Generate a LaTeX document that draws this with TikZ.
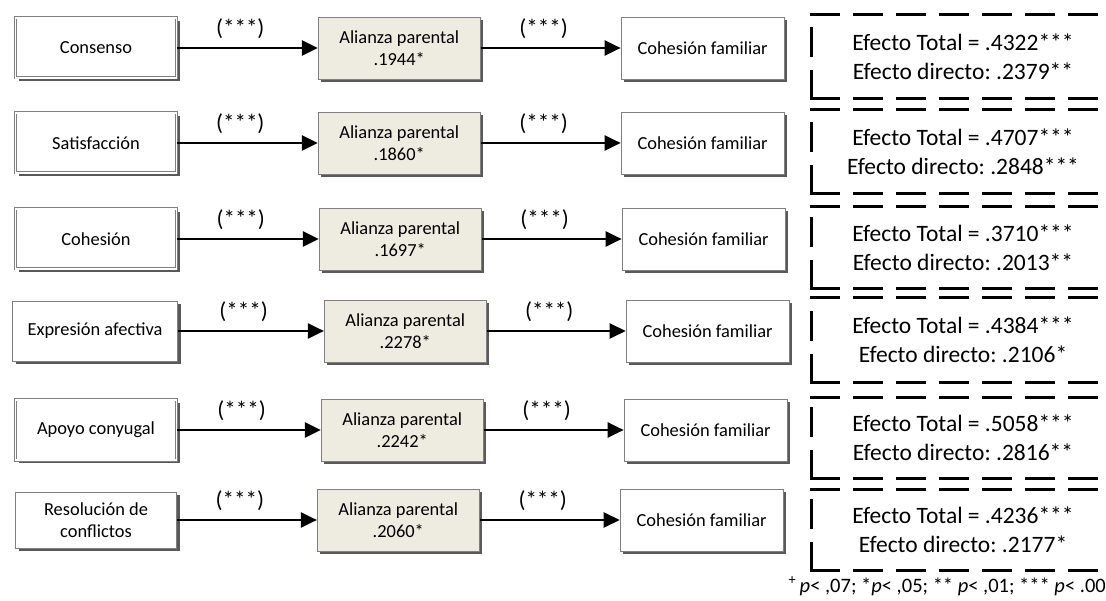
\documentclass[tikz,border=0pt]{standalone}
\usepackage{fontspec}
\setmainfont{Carlito}
\usetikzlibrary{
    positioning,
    shadows,
    arrows.meta
}
\definecolor{GrisBorde}{HTML}{7F7F7F}
\definecolor{GrisSombra}{HTML}{595959}
\definecolor{BeigeMedio}{HTML}{EEECE1}
\frenchspacing

\tikzset{
    caja/.style={
        draw=GrisBorde,
        line width=0.8pt,
        fill=white,
        minimum width=162pt,
        minimum height=61pt,
        inner sep=2pt,
        align=center,
        font=\fontsize{18.4}{22}\selectfont,
        drop shadow={shadow xshift=3pt, shadow yshift=-3pt,
                     fill=GrisSombra, opacity=1}
    },
    fuente/.style={caja, minimum width=161pt, minimum height=60pt},
    doble/.style={double=white, double distance=1.6pt, line width=0.7pt},
    mediador/.style={caja, fill=BeigeMedio, minimum height=62pt},
    resultado/.style={caja, minimum width=163pt, minimum height=62pt},
    flecha/.style={
        line width=2.4pt,
        -{Triangle[length=16pt, width=15pt]}
    },
    etiqueta/.style={
        above=8pt,
        pos=0.45,
        inner sep=0pt,
        font=\fontsize{23}{26}\selectfont
    },
    efecto/.style={
        minimum width=302pt,
        minimum height=83pt,
        inner sep=0pt,
        align=center,
        font=\fontsize{23.5}{29}\selectfont
    },
    borde/.style={
        line width=3pt,
        line cap=rect,
        dash pattern=on 27pt off 16pt
    }
}

\begin{document}
\begin{tikzpicture}[x=1pt, y=-1pt]

    \useasboundingbox (0,0) rectangle (1106,601);

    % fila 1
    \node[fuente, doble] (consenso) at (96,48) {Consenso};
    \node[mediador, right=141pt of consenso] (alianzaA) {Alianza parental\\.1944*};
    \node[resultado, right=140pt of alianzaA] (cohesionA) {Cohesión familiar};
    \draw[flecha] (consenso) -- node[etiqueta]{(***)} (alianzaA);
    \draw[flecha] (alianzaA) -- node[etiqueta]{(***)} (cohesionA);
    \node[efecto, minimum height=83pt] (efectoA) at (963,56.5)
        {Efecto Total = .4322***\\Efecto directo: .2379**};

    % fila 2
    \node[fuente, doble] (satisfaccion) at (96,143) {Satisfacción};
    \node[mediador, right=141pt of satisfaccion] (alianzaB) {Alianza parental\\.1860*};
    \node[resultado, right=140pt of alianzaB] (cohesionB) {Cohesión familiar};
    \draw[flecha] (satisfaccion) -- node[etiqueta]{(***)} (alianzaB);
    \draw[flecha] (alianzaB) -- node[etiqueta]{(***)} (cohesionB);
    \node[efecto, minimum height=83pt] (efectoB) at (963,151.5)
        {Efecto Total = .4707***\\Efecto directo: .2848***};

    % fila 3
    \node[fuente, doble] (cohesion) at (96,239) {Cohesión};
    \node[mediador, right=142pt of cohesion] (alianzaC) {Alianza parental\\.1697*};
    \node[resultado, right=140pt of alianzaC] (cohesionC) {Cohesión familiar};
    \draw[flecha] (cohesion) -- node[etiqueta]{(***)} (alianzaC);
    \draw[flecha] (alianzaC) -- node[etiqueta]{(***)} (cohesionC);
    \node[efecto, minimum height=81pt] (efectoC) at (963,247.5)
        {Efecto Total = .3710***\\Efecto directo: .2013**};

    % fila 4
    \node[fuente, minimum width=165pt] (expresion) at (95,331) {Expresión afectiva};
    \node[mediador, right=146pt of expresion] (alianzaD) {Alianza parental\\.2278*};
    \node[resultado, right=139pt of alianzaD] (cohesionD) {Cohesión familiar};
    \draw[flecha] (expresion) -- node[etiqueta]{(***)} (alianzaD);
    \draw[flecha] (alianzaD) -- node[etiqueta]{(***)} (cohesionD);
    \node[efecto, minimum height=84pt] (efectoD) at (963,340)
        {Efecto Total = .4384***\\Efecto directo: .2106*};

    % fila 5
    \node[fuente, doble] (apoyo) at (96,430) {Apoyo conyugal};
    \node[mediador, right=144pt of apoyo] (alianzaE) {Alianza parental\\.2242*};
    \node[resultado, right=140pt of alianzaE] (cohesionE) {Cohesión familiar};
    \draw[flecha] (apoyo) -- node[etiqueta]{(***)} (alianzaE);
    \draw[flecha] (alianzaE) -- node[etiqueta]{(***)} (cohesionE);
    \node[efecto, minimum height=80pt] (efectoE) at (963,438)
        {Efecto Total = .5058***\\Efecto directo: .2816**};

    % fila 6
    \node[fuente, minimum height=56pt] (resolucion) at (96,520) {Resolución de\\conflictos};
    \node[mediador, right=140pt of resolucion] (alianzaF) {Alianza parental\\.2060*};
    \node[resultado, right=140pt of alianzaF] (cohesionF) {Cohesión familiar};
    \draw[flecha] (resolucion) -- node[etiqueta]{(***)} (alianzaF);
    \draw[flecha] (alianzaF) -- node[etiqueta]{(***)} (cohesionF);
    \node[efecto, minimum height=80pt] (efectoF) at (963,530)
        {Efecto Total = .4236***\\Efecto directo: .2177*};

    % bordes discontinuos
    \foreach \e in {efectoA,efectoB,efectoC,efectoD,efectoE,efectoF}{
        \draw[borde] (\e.north west) -- (\e.north east);
        \draw[borde] (\e.south west) -- (\e.south east);
        \draw[borde] (\e.south west) -- (\e.north west);
    }

    % nota
    \node[anchor=east, inner sep=0pt, font=\fontsize{20.5}{23}\selectfont] (nota) at (1106,586)
        {\textsuperscript{+}\,\textit{p}< ,07; *\textit{p}< ,05; ** \textit{p}< ,01; *** \textit{p}< .00};

\end{tikzpicture}
\end{document}
